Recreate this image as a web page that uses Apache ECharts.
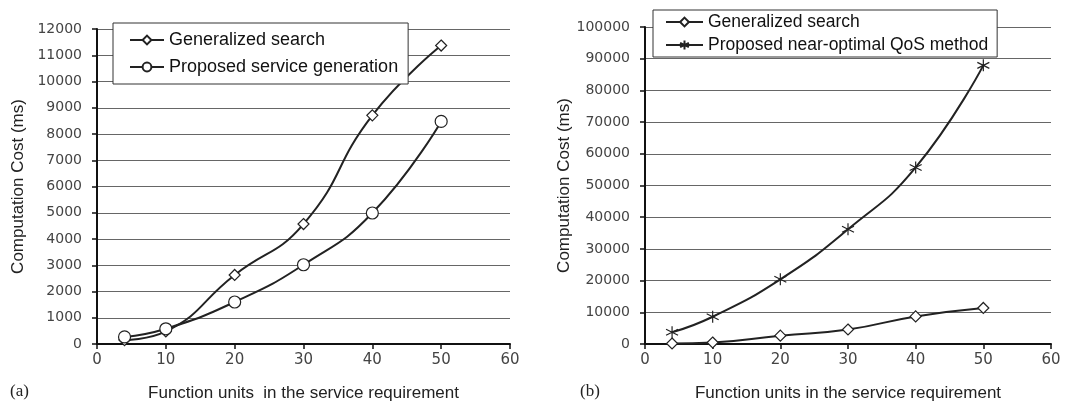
<!DOCTYPE html>
<html>
<head>
<meta charset="utf-8">
<script src="https://cdn.jsdelivr.net/npm/echarts@6/dist/echarts.min.js"></script>
<style>
  html, body { margin: 0; padding: 0; background: #fff; }
  #chart { width: 1077px; height: 404px; }
</style>
</head>
<body>
<div id="chart"></div>
<script>
// function units (x values)
const units = [4, 10, 20, 30, 40, 50]
// computation cost (ms)
const generalized = [150, 480, 2630, 4570, 8710, 11370]
const proposedGen = [270, 580, 1600, 3020, 4990, 8480]
const proposedQos = [3700, 8600, 20400, 36200, 55700, 87900]
const xNames = ['Function units  in the service requirement', 'Function units in the service requirement']

const pairs = vals => units.map((u, i) => [u, vals[i]])

const starPath = 'path://M0,-10L0,10M-8.66,-5L8.66,5M-8.66,5L8.66,-5'
const font = 'Liberation Sans, Arial, sans-serif'

function xAxis (gridIndex) {
  return {
    gridIndex,
    type: 'value',
    min: 0,
    max: 60,
    interval: 10,
    name: xNames[gridIndex],
    nameLocation: 'middle',
    nameGap: 41,
    nameTextStyle: { fontSize: 17, color: '#222', fontFamily: font },
    axisLine: { lineStyle: { color: '#111', width: 2 } },
    axisTick: { show: true, length: 5, lineStyle: { color: '#111', width: 1.5 } },
    axisLabel: { color: '#444', fontSize: 15, fontFamily: 'DejaVu Sans', margin: 9 },
    splitLine: { show: false }
  }
}

function yAxis (gridIndex, max, interval) {
  return {
    gridIndex,
    type: 'value',
    min: 0,
    max,
    interval,
    name: 'Computation Cost (ms)',
    nameLocation: 'middle',
    nameGap: gridIndex === 0 ? 70 : 69,
    nameTextStyle: { fontSize: 17, color: '#222', fontFamily: font },
    axisLine: { show: true, lineStyle: { color: '#111', width: 2 } },
    axisTick: { show: true, length: 5, lineStyle: { color: '#111', width: 1.5 } },
    axisLabel: { color: '#444', fontSize: 14, fontFamily: 'DejaVu Sans', margin: 15, formatter: v => String(v) },
    splitLine: { lineStyle: { color: '#666', width: 1 } }
  }
}

function line (name, data, symbol, size, xi) {
  return {
    name,
    type: 'line',
    xAxisIndex: xi,
    yAxisIndex: xi,
    data,
    smooth: 0.5,
    symbol,
    symbolSize: size,
    lineStyle: { color: '#222', width: 2 },
    itemStyle: { color: '#fff', borderColor: '#222', borderWidth: 1.2 },
    emphasis: { disabled: true }
  }
}

const chart = echarts.init(document.getElementById('chart'))
const legendBase = {
  orient: 'vertical',
  backgroundColor: '#fff',
  borderColor: '#333',
  borderWidth: 1,
  borderRadius: 0,
  itemHeight: 11,
  selectedMode: false
}

const option = {
  animation: false,
  grid: [
    { left: 97, right: 567, top: 29, bottom: 60, outerBoundsMode: 'none' },
    { left: 645, right: 26, top: 27, bottom: 60, outerBoundsMode: 'none' }
  ],
  graphic: [
    { type: 'text', left: 10, top: 383, style: { text: '(a)', fontSize: 17, fontFamily: 'Liberation Serif', fill: '#222' } },
    { type: 'text', left: 580, top: 383, style: { text: '(b)', fontSize: 17, fontFamily: 'Liberation Serif', fill: '#222' } }
  ],
  legend: [
    Object.assign({}, legendBase, {
      data: ['Generalized search', 'Proposed service generation'],
      left: 113, top: 23, padding: [8, 10, 8, 16],
      itemWidth: 34, itemGap: 9,
      textStyle: { fontSize: 18, color: '#111', fontFamily: font }
    }),
    Object.assign({}, legendBase, {
      data: ['Generalized search ', 'Proposed near-optimal QoS method'],
      left: 653, top: 10, padding: [3, 9, 3, 12],
      itemWidth: 37, itemGap: 5,
      textStyle: { fontSize: 17.5, color: '#111', fontFamily: font }
    })
  ],
  xAxis: [xAxis(0), xAxis(1)],
  yAxis: [yAxis(0, 12000, 1000), yAxis(1, 100000, 10000)],
  series: [
    line('Generalized search', pairs(generalized), 'diamond', 11, 0),
    line('Proposed service generation', pairs(proposedGen), 'circle', 12, 0),
    line('Generalized search ', pairs(generalized), 'diamond', 11, 1),
    line('Proposed near-optimal QoS method', pairs(proposedQos), starPath, 12, 1)
  ]
}
chart.setOption(option)
</script>
</body>
</html>
